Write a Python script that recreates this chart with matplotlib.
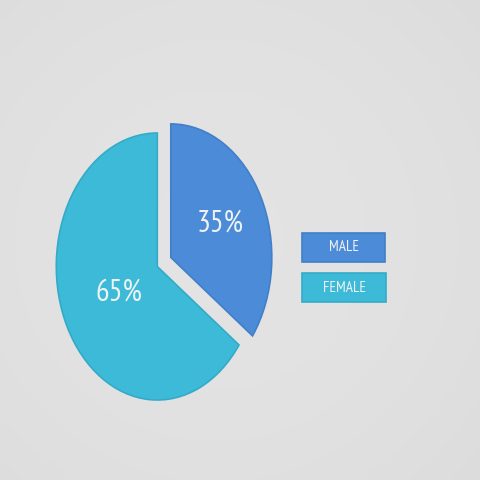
import numpy as np
import matplotlib
matplotlib.use("Agg")
import matplotlib.pyplot as plt
from matplotlib.patches import Rectangle

# ---- data ----
categories = ['MALE', 'FEMALE']
shares = [35, 65]
colors = ['#4b8bd8', '#3cbad7']
edge_colors = ['#417fc8', '#33abc8']

FONT = ['PT Sans Narrow', 'DejaVu Sans']
W = H = 480

fig = plt.figure(figsize=(4.8, 4.8), dpi=100)

# soft photographic background
bg = fig.add_axes([0, 0, 1, 1])
yy, xx = np.mgrid[0:1:200j, 0:1:200j]
r = np.sqrt((xx - 0.45) ** 2 + (yy - 0.5) ** 2)
shade = 0.893 - 0.05 * r ** 2
bg.imshow(np.dstack([shade, shade * 0.998, shade * 0.998]), extent=[0, 1, 0, 1],
          aspect='auto', origin='lower')
bg.axis('off')

ax = fig.add_axes([0, 0, 1, 1])
ax.patch.set_alpha(0)
wedges, texts, autotexts = ax.pie(
    shares, colors=colors, startangle=90, counterclock=False,
    explode=[0.15, 0], radius=1, center=(0, 0), autopct='%d%%',
    pctdistance=0.55,
    wedgeprops=dict(linewidth=1.2),
    textprops=dict(color='#eef2f5', fontsize=22, family=FONT))
for w, ec in zip(wedges, edge_colors):
    w.set_edgecolor(ec)
# female label sits closer to the centre
x, y = autotexts[1].get_position()
autotexts[1].set_position((x * 0.77, y * 0.77))

ax.set_aspect('auto')
rx, ry = 101.0, 133.5
cx, cy = 157.3, H - 266.5
ax.set_xlim(-cx / rx, (W - cx) / rx)
ax.set_ylim(-cy / ry, (H - cy) / ry)
ax.axis('off')

# legend "buttons"
boxes = [(302, 233, 83, 29), (302, 273, 84, 29)]
for (bx, by, bw, bh), lab, col, ec in zip(boxes, categories, colors, edge_colors):
    fx, fy = bx / W, 1 - (by + bh) / H
    fig.patches.append(Rectangle((fx, fy), bw / W, bh / H, transform=fig.transFigure,
                                 facecolor=col, edgecolor=ec, linewidth=1.2))
    fig.text(fx + bw / W / 2, fy + bh / H / 2, lab, ha='center', va='center',
             color='#eef2f5', fontsize=11, family=FONT)

fig.savefig('out.png', dpi=100)
